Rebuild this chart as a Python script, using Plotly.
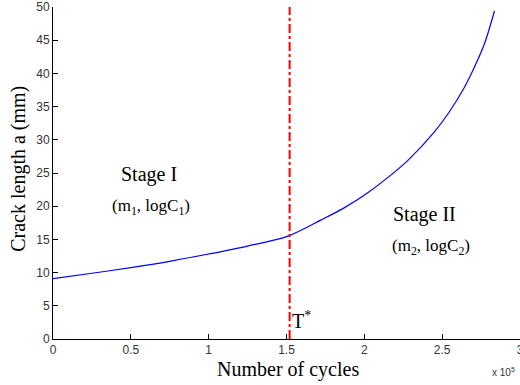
import plotly.graph_objects as go

# Data (cycles in units of 1e5, crack length in mm)
cycles = [0, 0.25, 0.5, 0.75, 1.0, 1.25, 1.51, 1.72, 1.87, 2.02, 2.15, 2.28, 2.45, 2.54, 2.645, 2.72, 2.775, 2.836]
crack_len = [9.1, 9.9, 10.75, 11.7, 12.8, 14.0, 15.5, 17.9, 19.75, 22.0, 24.3, 26.9, 31.2, 34.0, 38.0, 41.6, 44.7, 49.4]
t_star = 1.52
x_ticks = [0, 0.5, 1, 1.5, 2, 2.5, 3]
x_tick_labels = ["0", "0.5", "1", "1.5", "2", "2.5", "3"]
y_ticks = [0, 5, 10, 15, 20, 25, 30, 35, 40, 45, 50]

serif = "Liberation Serif, Times New Roman, serif"
sans = "Liberation Sans, Arial, sans-serif"

W, H = 524, 385
L, B, T = 53, 46, 6
PW = W - L
PH = H - B - T

fig = go.Figure()
fig.add_trace(go.Scatter(x=cycles, y=crack_len, mode="lines",
                         line=dict(color="#0000FF", width=1.2, shape="spline", smoothing=0.9),
                         showlegend=False, hoverinfo="skip"))
fig.add_trace(go.Scatter(x=[t_star, t_star], y=[0, 50], mode="lines",
                         line=dict(color="#FF0000", width=2, dash="dashdot"),
                         showlegend=False, hoverinfo="skip"))

fig.update_layout(
    width=W, height=H,
    margin=dict(l=L, r=0, t=T, b=B),
    paper_bgcolor="white", plot_bgcolor="white",
    xaxis=dict(range=[0, 3], tickvals=x_ticks, ticktext=x_tick_labels,
               showgrid=False, zeroline=False, showline=True, linecolor="#000", linewidth=1,
               ticks="inside", ticklen=5, tickcolor="#000", ticklabeloverflow="allow",
               tickfont=dict(family=sans, size=12, color="#333")),
    yaxis=dict(range=[0, 50], tickvals=y_ticks,
               showgrid=False, zeroline=False, showline=True, linecolor="#000", linewidth=1,
               ticks="inside", ticklen=5, tickcolor="#000", ticklabeloverflow="allow",
               tickfont=dict(family=sans, size=12, color="#333")),
)

annots = [
    dict(text="Crack length a (mm)", x=18, y=168, size=20, angle=-90),
    dict(text="Number of cycles", x=290, y=370, size=20),
    dict(text="Stage I", x=150, y=174, size=20),
    dict(text="(m<sub>1</sub>, logC<sub>1</sub>)", x=152, y=207, size=17),
    dict(text="Stage II", x=428, y=214, size=20),
    dict(text="(m<sub>2</sub>, logC<sub>2</sub>)", x=434, y=247, size=17),
    dict(text="T<sup>*</sup>", x=304, y=320, size=20),
]
for a in annots:
    fig.add_annotation(text=a["text"], xref="paper", yref="paper",
                       x=(a["x"] - L) / PW, y=(H - B - a["y"]) / PH,
                       xanchor="center", yanchor="middle", showarrow=False,
                       textangle=a.get("angle", 0),
                       font=dict(family=serif, size=a["size"], color="#000"))
fig.add_annotation(text="x 10<sup>5</sup>", xref="paper", yref="paper",
                   x=(494 - L) / PW, y=(H - B - 372) / PH, xanchor="left", yanchor="middle",
                   showarrow=False, font=dict(family=sans, size=10, color="#333"))

fig.write_html("out.html", config={"displayModeBar": False},
               post_script="document.body.style.margin='0';document.body.style.padding='0';document.body.style.overflow='hidden';document.documentElement.style.overflow='hidden';")
